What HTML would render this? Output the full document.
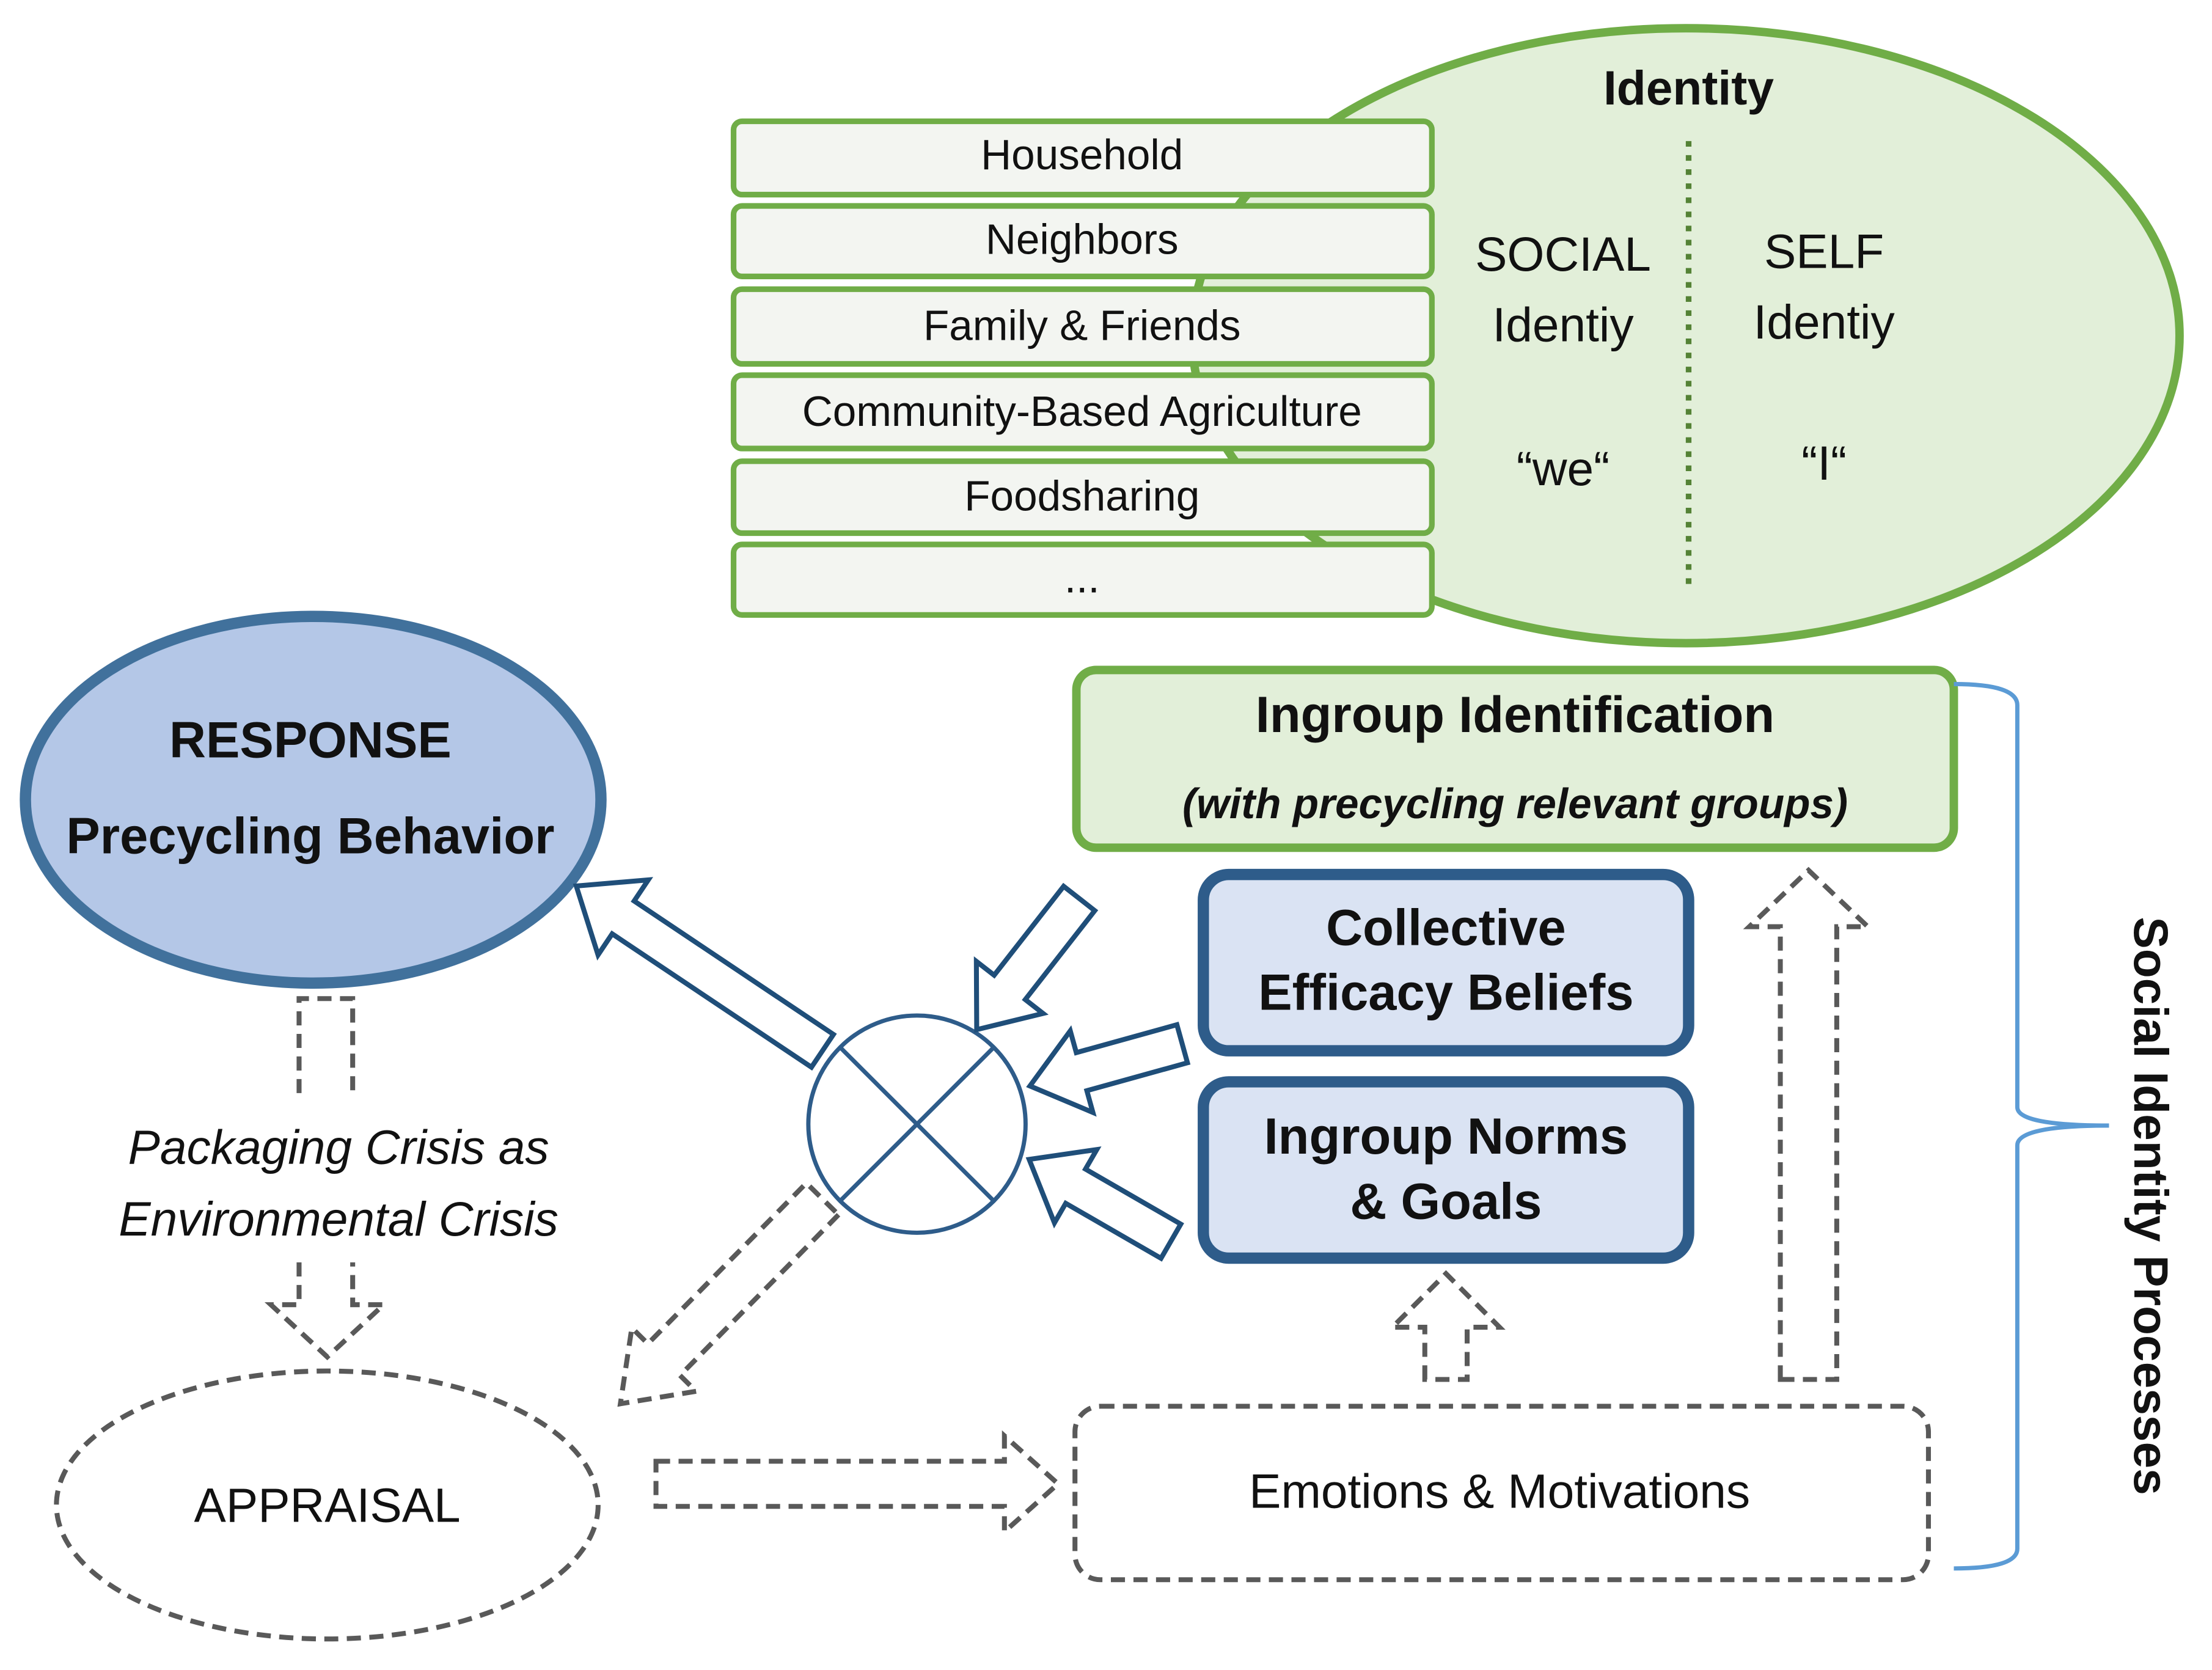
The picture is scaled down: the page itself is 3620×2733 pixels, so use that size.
<!DOCTYPE html>
<html><head><meta charset="utf-8"><style>
html,body{margin:0;padding:0;background:#fff}
svg{display:block}
text{font-family:"Liberation Sans",sans-serif;fill:#111}
</style></head><body>
<svg width="3620" height="2733" viewBox="0 0 1568 1184" preserveAspectRatio="none" xmlns="http://www.w3.org/2000/svg">
<!-- Identity ellipse -->
<ellipse cx="1195" cy="238" rx="350" ry="218" fill="#e2efd9" stroke="#70ad47" stroke-width="6"/>
<text x="1197" y="74" font-size="34" font-weight="bold" text-anchor="middle">Identity</text>
<line x1="1197" y1="100" x2="1197" y2="418" stroke="#548235" stroke-width="4" stroke-dasharray="4,6"/>
<g font-size="34" text-anchor="middle">
<text x="1108" y="192">SOCIAL</text><text x="1108" y="242">Identiy</text><text x="1108" y="344">“we“</text>
<text x="1293" y="190">SELF</text><text x="1293" y="240">Identiy</text><text x="1293" y="340">“I“</text>
</g>
<!-- group boxes -->
<g fill="#f3f5f1" stroke="#70ad47" stroke-width="4">
<rect x="520" y="86" width="495" height="52" rx="6"/>
<rect x="520" y="146" width="495" height="50" rx="6"/>
<rect x="520" y="205" width="495" height="53" rx="6"/>
<rect x="520" y="266" width="495" height="52" rx="6"/>
<rect x="520" y="327" width="495" height="51" rx="6"/>
<rect x="520" y="386" width="495" height="50" rx="6"/>
</g>
<g font-size="30" text-anchor="middle">
<text x="767" y="120">Household</text>
<text x="767" y="180">Neighbors</text>
<text x="767" y="241">Family &amp; Friends</text>
<text x="767" y="302">Community-Based Agriculture</text>
<text x="767" y="362">Foodsharing</text>
<text x="767" y="420">...</text>
</g>
<!-- Ingroup identification -->
<rect x="763" y="475" width="622" height="126" rx="14" fill="#e2efd9" stroke="#70ad47" stroke-width="6"/>
<text x="1074" y="519" font-size="36" font-weight="bold" text-anchor="middle">Ingroup Identification</text>
<text x="1074" y="580" font-size="30" font-weight="bold" font-style="italic" text-anchor="middle">(with precycling relevant groups)</text>
<!-- bracket -->
<path d="M1385,485 Q1430,485 1430,500 L1430,785 Q1430,798 1495,798 Q1430,798 1430,812 L1430,1098 Q1430,1112 1385,1112" fill="none" stroke="#5b9bd5" stroke-width="3"/>
<text transform="translate(1513,855) rotate(90)" font-size="34" font-weight="bold" text-anchor="middle">Social Identity Processes</text>
<!-- Response -->
<ellipse cx="222" cy="567" rx="204" ry="130" fill="#b4c7e7" stroke="#41719c" stroke-width="8"/>
<text x="220" y="537" font-size="36" font-weight="bold" text-anchor="middle">RESPONSE</text>
<text x="220" y="605" font-size="36" font-weight="bold" text-anchor="middle">Precycling Behavior</text>
<!-- Collective / Norms -->
<rect x="853" y="620" width="344" height="125" rx="18" fill="#dae3f3" stroke="#2e5c8a" stroke-width="8"/>
<text x="1025" y="670" font-size="36" font-weight="bold" text-anchor="middle">Collective</text>
<text x="1025" y="716" font-size="36" font-weight="bold" text-anchor="middle">Efficacy Beliefs</text>
<rect x="853" y="767" width="344" height="125" rx="18" fill="#dae3f3" stroke="#2e5c8a" stroke-width="8"/>
<text x="1025" y="818" font-size="36" font-weight="bold" text-anchor="middle">Ingroup Norms</text>
<text x="1025" y="864" font-size="36" font-weight="bold" text-anchor="middle">&amp; Goals</text>
<!-- circle X -->
<circle cx="650" cy="797" r="77" fill="#fff" stroke="#2e5c8a" stroke-width="3"/>
<line x1="596" y1="743" x2="704" y2="851" stroke="#2e5c8a" stroke-width="3"/>
<line x1="704" y1="743" x2="596" y2="851" stroke="#2e5c8a" stroke-width="3"/>
<!-- solid block arrows -->
<g fill="#fff" stroke="#1f4e79" stroke-width="3.5">
<polygon transform="translate(583,745) rotate(213.8)" points="0,-14 170,-14 170,-32 210,0 170,32 170,14 0,14"/>
<polygon transform="translate(765,637) rotate(128)" points="0,-14 80,-14 80,-30 118,0 80,30 80,14 0,14"/>
<polygon transform="translate(838,740) rotate(164.5)" points="0,-14 74,-14 74,-30 112,0 74,30 74,14 0,14"/>
<polygon transform="translate(830,880) rotate(210)" points="0,-14 78,-14 78,-30 116,0 78,30 78,14 0,14"/>
</g>
<!-- dashed arrows -->
<g fill="#fff" stroke="#595959" stroke-width="3.5" stroke-dasharray="10,6">
<polyline points="212,775 212,708 250,708 250,775" fill="none"/>
<polyline points="212,895 212,925 192,925 232,962 272,925 250,925 250,895" fill="none"/>
<polygon transform="translate(583,850) rotate(134.6)" points="0,-16 160,-16 160,-32 204,0 160,32 160,16 0,16"/>
<polygon transform="translate(465,1052) rotate(0)" points="0,-16 247,-16 247,-34 285,0 247,34 247,16 0,16"/>
<polygon transform="translate(1025,978) rotate(-90)" points="0,-15 37,-15 37,-38 75,0 37,38 37,15 0,15"/>
<polygon transform="translate(1282,978) rotate(-90)" points="0,-20 321,-20 321,-42 361,0 321,42 321,20 0,20"/>
<ellipse cx="232" cy="1067" rx="192" ry="95"/>
<rect x="762" y="997" width="605" height="123" rx="18"/>
</g>
<text x="240" y="825" font-size="34" font-style="italic" text-anchor="middle">Packaging Crisis as</text>
<text x="240" y="876" font-size="34" font-style="italic" text-anchor="middle">Environmental Crisis</text>
<text x="232" y="1079" font-size="34" text-anchor="middle">APPRAISAL</text>
<text x="1063" y="1069" font-size="34" text-anchor="middle">Emotions &amp; Motivations</text>
</svg>
</body></html>
